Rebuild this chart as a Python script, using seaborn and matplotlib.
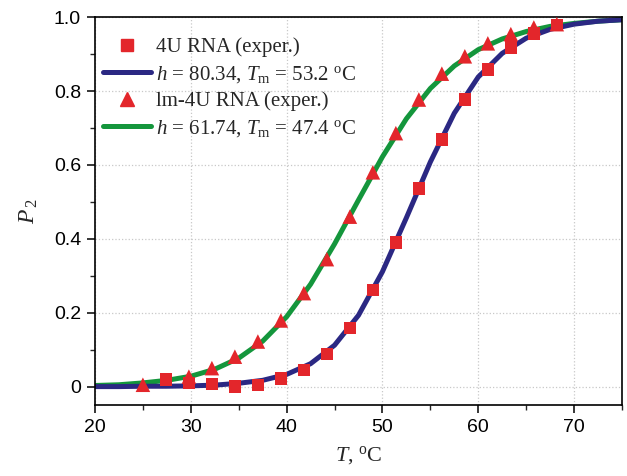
import numpy as np
import pandas as pd
import matplotlib
matplotlib.use("Agg")
import matplotlib.pyplot as plt
from matplotlib.ticker import MultipleLocator, FuncFormatter
from matplotlib.lines import Line2D
import seaborn as sns

t_4u = [27.4, 29.8, 32.2, 34.6, 37.0, 39.4, 41.8, 44.2, 46.6, 49.0,
        51.4, 53.8, 56.2, 58.6, 61.0, 63.4, 65.8, 68.2]
p_4u = [0.019, 0.010, 0.007, 0.000, 0.005, 0.022, 0.045, 0.089, 0.159, 0.262,
        0.390, 0.536, 0.669, 0.777, 0.858, 0.918, 0.956, 0.978]

t_lm = [25.0, 29.8, 32.2, 34.6, 37.0, 39.4, 41.8, 44.2, 46.6, 49.0,
        51.4, 53.8, 56.2, 58.6, 61.0, 63.4, 65.8, 68.2]
p_lm = [0.005, 0.027, 0.050, 0.081, 0.122, 0.179, 0.253, 0.345, 0.460, 0.580,
        0.686, 0.777, 0.847, 0.894, 0.929, 0.954, 0.972, 0.981]

# --- fitted curves ---
t_fit = [20.0, 22.5, 25.0, 27.5, 30.0, 32.5, 35.0, 37.5, 40.0, 42.5, 45.0,
         47.5, 50.0, 52.5, 55.0, 57.5, 60.0, 62.5, 65.0, 67.5, 70.0, 72.5, 75.0]
p_fit_4u = [0.000, 0.000, 0.001, 0.001, 0.002, 0.004, 0.009, 0.017, 0.033,
            0.062, 0.112, 0.193, 0.311, 0.457, 0.608, 0.740, 0.838, 0.902,
            0.943, 0.967, 0.981, 0.989, 0.993]
p_fit_lm = [0.003, 0.005, 0.010, 0.017, 0.028, 0.047, 0.077, 0.123, 0.189,
            0.277, 0.386, 0.505, 0.622, 0.725, 0.807, 0.868, 0.912, 0.941,
            0.961, 0.975, 0.983, 0.989, 0.993]

label_4u = "4U RNA (exper.)"
label_lm = "lm-4U RNA (exper.)"
label_fit_4u = r"$h$ = 80.34, $T_{\rm m}$ = 53.2 $^{\rm o}$C"
label_fit_lm = r"$h$ = 61.74, $T_{\rm m}$ = 47.4 $^{\rm o}$C"

BLUE = "#2b2883"
GREEN = "#14963c"
RED = "#e3262b"

sns.set_theme(style="ticks")
plt.rcParams["font.family"] = ["Liberation Sans", "DejaVu Sans"]
plt.rcParams["mathtext.fontset"] = "custom"
plt.rcParams["mathtext.rm"] = "Liberation Serif"
plt.rcParams["mathtext.it"] = "Liberation Serif:italic"

df_fit = pd.DataFrame({"T": t_fit * 2,
                       "P": p_fit_lm + p_fit_4u,
                       "fit": [label_fit_lm] * len(t_fit) + [label_fit_4u] * len(t_fit)})

fig, ax = plt.subplots(figsize=(6.27, 4.76), dpi=100)
fig.subplots_adjust(left=0.1515, right=0.992, top=0.964, bottom=0.149)

sns.lineplot(data=df_fit, x="T", y="P", hue="fit",
             palette={label_fit_lm: GREEN, label_fit_4u: BLUE},
             linewidth=3.6, ax=ax, legend=False, zorder=2)
sns.scatterplot(x=t_4u, y=p_4u, marker="s", s=80, color=RED,
                edgecolor="none", ax=ax, zorder=3)
sns.scatterplot(x=t_lm, y=p_lm, marker="^", s=110, color=RED,
                edgecolor="none", ax=ax, zorder=3)

ax.set_xlim(20, 75)
ax.set_ylim(-0.05, 1.0)
ax.xaxis.set_major_locator(MultipleLocator(10))
ax.xaxis.set_minor_locator(MultipleLocator(5))
ax.yaxis.set_major_locator(MultipleLocator(0.2))
ax.yaxis.set_minor_locator(MultipleLocator(0.1))
ax.yaxis.set_major_formatter(FuncFormatter(lambda v, p: "0" if abs(v) < 1e-9 else f"{v:.1f}"))
ax.tick_params(which="major", direction="out", length=6, width=1.1,
               labelsize=14, colors="black", pad=4)
ax.tick_params(which="minor", direction="out", length=3.5, width=1.0)
ax.grid(True, which="major", color="#c8c8c8", linestyle=":", linewidth=0.9)
ax.set_axisbelow(True)
for sp in ax.spines.values():
    sp.set_visible(True)
    sp.set_color("black")
    sp.set_linewidth(1.2)

ax.set_xlabel(r"$T$, $^{\rm o}$C", fontsize=16, family="Liberation Serif", labelpad=6)
ax.set_ylabel(r"$P_{\,2}$", fontsize=17, family="Liberation Serif", labelpad=10)

handles = [
    Line2D([], [], marker="s", linestyle="none", color=RED, markersize=8),
    Line2D([], [], color=BLUE, linewidth=3.6),
    Line2D([], [], marker="^", linestyle="none", color=RED, markersize=10),
    Line2D([], [], color=GREEN, linewidth=3.6),
]
labels = [label_4u, label_fit_4u, label_lm, label_fit_lm]
ax.legend(handles, labels, loc="upper left", frameon=False,
          prop={"family": "Liberation Serif", "size": 15},
          handlelength=2.3, handletextpad=0.25, labelspacing=0.33,
          borderaxespad=0.0, bbox_to_anchor=(0.0, 0.97))

fig.savefig("out.png", dpi=100)
